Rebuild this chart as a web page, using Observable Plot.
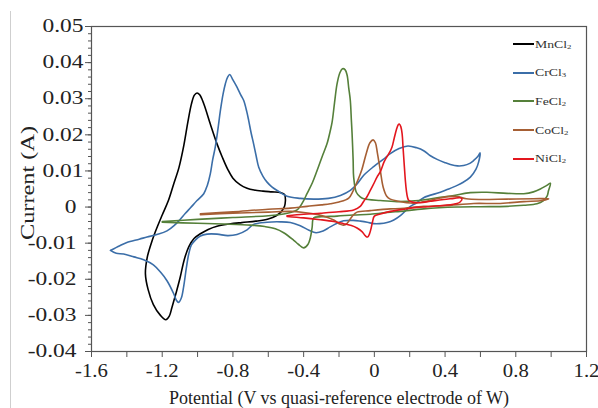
<!DOCTYPE html>
<html>
<head>
<meta charset="utf-8">
<script src="https://cdn.jsdelivr.net/npm/d3@7"></script>
<script src="https://cdn.jsdelivr.net/npm/@observablehq/plot@0.6"></script>
<style>
  html, body { margin: 0; padding: 0; background: #fff; }
  #wrap { position: relative; width: 598px; height: 408px; overflow: hidden; }
  #edge { position: absolute; left: 10px; top: 11px; width: 1px; height: 397px; background: #cfcfcf; }
  #legend { position: absolute; left: 513px; top: 30px; font-family: "Liberation Serif", serif; font-size: 11px; color: #333; }
  .item { display: flex; align-items: center; height: 28.6px; }
  .sw { width: 21px; height: 0; border-top: 2px solid; margin-right: 1px; }
  .lab { display: inline-block; transform: scaleX(1.25); transform-origin: left center; }
  sub { font-size: 7px; vertical-align: -1px; }
</style>
</head>
<body>
<div id="wrap"><div id="edge"></div><div id="chart"></div><div id="legend"></div></div>
<script>
const seriesNames = ["MnCl2", "CrCl3", "FeCl2", "CoCl2", "NiCl2"];
const seriesLabels = ["MnCl<sub>2</sub>", "CrCl<sub>3</sub>", "FeCl<sub>2</sub>", "CoCl<sub>2</sub>", "NiCl<sub>2</sub>"];
const seriesColors = ["#000000", "#3b6ea8", "#55803a", "#a65f34", "#e3161e"];

const xTicks = [-1.6, -1.2, -0.8, -0.4, 0, 0.4, 0.8, 1.2];
const xMinorTicks = [-1.4, -1.0, -0.6, -0.2, 0.2, 0.6, 1.0];
const yTicksPositive = [0.01, 0.02, 0.03, 0.04, 0.05];
const yTicksOther = [-0.04, -0.03, -0.02, -0.01, 0];
const xLabel = "Potential (V vs quasi-reference electrode of W)";
const yLabel = "Current (A)";

const mnCl2 = [
  [-0.503, 0.0018], [-0.508, 0.0035], [-0.53, 0.0040], [-0.58, 0.0042], [-0.63, 0.0044], [-0.68, 0.0047],
  [-0.72, 0.0052], [-0.76, 0.0062], [-0.80, 0.0080], [-0.83, 0.0105], [-0.86, 0.0138], [-0.89, 0.0175],
  [-0.928, 0.0230], [-0.965, 0.0286], [-0.988, 0.0311], [-1.003, 0.0316], [-1.018, 0.0310], [-1.035, 0.0285],
  [-1.055, 0.0235], [-1.078, 0.0170], [-1.105, 0.0110], [-1.135, 0.0064], [-1.165, 0.0018], [-1.20, -0.0022],
  [-1.24, -0.0070], [-1.265, -0.0105], [-1.285, -0.0140], [-1.295, -0.0185], [-1.28, -0.0228], [-1.25, -0.0270],
  [-1.21, -0.0300], [-1.18, -0.0312], [-1.16, -0.0302], [-1.145, -0.0278], [-1.12, -0.0235], [-1.10, -0.0198],
  [-1.075, -0.0145], [-1.05, -0.0110], [-1.02, -0.0087], [-0.984, -0.0074], [-0.94, -0.0062], [-0.89, -0.0053],
  [-0.82, -0.0047], [-0.75, -0.0043], [-0.67, -0.0039], [-0.60, -0.0033], [-0.555, -0.0024], [-0.525, -0.0012],
  [-0.508, 0.0002], [-0.503, 0.0018]
];

const crCl3 = [
  [-1.493, -0.0120], [-1.44, -0.0107], [-1.40, -0.0098], [-1.33, -0.0089], [-1.286, -0.0083], [-1.23, -0.0076],
  [-1.173, -0.0066], [-1.13, -0.0050], [-1.10, -0.0035], [-1.07, -0.0018], [-1.04, -0.0002], [-1.003, 0.0018],
  [-0.965, 0.0037], [-0.945, 0.0060], [-0.928, 0.0092], [-0.915, 0.0130], [-0.90, 0.0166], [-0.885, 0.0215],
  [-0.871, 0.0267], [-0.855, 0.0315], [-0.843, 0.0341], [-0.83, 0.0360], [-0.818, 0.0367], [-0.80, 0.0352],
  [-0.777, 0.0332], [-0.755, 0.0310], [-0.739, 0.0295], [-0.722, 0.0265], [-0.711, 0.0240], [-0.697, 0.0205],
  [-0.683, 0.0175], [-0.668, 0.0140], [-0.654, 0.0110], [-0.63, 0.0085], [-0.607, 0.0069], [-0.58, 0.0056],
  [-0.55, 0.0046], [-0.494, 0.0030], [-0.42, 0.0024], [-0.343, 0.0022], [-0.26, 0.0024], [-0.192, 0.0032],
  [-0.136, 0.0046], [-0.098, 0.0064], [-0.06, 0.0088], [-0.004, 0.0112], [0.05, 0.0132], [0.09, 0.0148],
  [0.14, 0.0162], [0.19, 0.0169], [0.24, 0.0164], [0.279, 0.0156], [0.317, 0.0142], [0.355, 0.0132],
  [0.40, 0.0123], [0.43, 0.0118], [0.47, 0.0114], [0.505, 0.0115], [0.54, 0.0121], [0.562, 0.0129],
  [0.585, 0.0140], [0.598, 0.0150],
  [0.59, 0.0125], [0.575, 0.0105], [0.543, 0.0083], [0.50, 0.0068], [0.468, 0.0060], [0.42, 0.0050],
  [0.373, 0.0041], [0.279, 0.0026], [0.24, 0.0012], [0.204, 0.0002], [0.147, -0.0024], [0.11, -0.0036],
  [0.072, -0.0043], [0.03, -0.0046], [-0.004, -0.0046], [-0.04, -0.0042], [-0.079, -0.0039], [-0.12, -0.0037],
  [-0.174, -0.0038], [-0.211, -0.0045], [-0.25, -0.0055], [-0.29, -0.0066], [-0.33, -0.0071], [-0.37, -0.0064],
  [-0.419, -0.0052], [-0.475, -0.0043], [-0.53, -0.0041], [-0.607, -0.0042], [-0.683, -0.0048], [-0.72, -0.0063],
  [-0.777, -0.0076], [-0.83, -0.0079], [-0.89, -0.0075], [-0.946, -0.0075], [-0.984, -0.0080], [-1.01, -0.0090],
  [-1.035, -0.0105], [-1.05, -0.0130], [-1.063, -0.0167], [-1.078, -0.0218], [-1.092, -0.0252], [-1.107, -0.0264],
  [-1.12, -0.0258], [-1.135, -0.0240], [-1.173, -0.0204], [-1.21, -0.0180], [-1.25, -0.0160], [-1.305, -0.0146],
  [-1.36, -0.0138], [-1.418, -0.0130], [-1.46, -0.0128], [-1.493, -0.0120]
];

const feCl2 = [
  [-1.2, -0.0040], [-1.0, -0.0034], [-0.8, -0.0029], [-0.6, -0.0024], [-0.513, -0.0019], [-0.475, -0.0015],
  [-0.437, -0.0008], [-0.419, 0.0002], [-0.40, 0.0018], [-0.381, 0.0037], [-0.35, 0.0068], [-0.324, 0.0101],
  [-0.295, 0.0140], [-0.268, 0.0175], [-0.25, 0.0210], [-0.239, 0.0235], [-0.225, 0.0290], [-0.211, 0.0341],
  [-0.195, 0.0372], [-0.18, 0.0383], [-0.165, 0.0380], [-0.154, 0.0365], [-0.145, 0.0330], [-0.136, 0.0295],
  [-0.13, 0.0240], [-0.126, 0.0203], [-0.12, 0.0130], [-0.117, 0.0083], [-0.102, 0.0041], [-0.08, 0.0028],
  [-0.06, 0.0023], [0.034, 0.0018], [0.128, 0.0015], [0.25, 0.0018], [0.373, 0.0027], [0.45, 0.0032],
  [0.543, 0.0040], [0.637, 0.0041], [0.75, 0.0038], [0.845, 0.0037], [0.90, 0.0042], [0.939, 0.0050],
  [0.975, 0.0060], [0.996, 0.0066],
  [0.985, 0.0045], [0.977, 0.0030], [0.955, 0.0017], [0.92, 0.0009], [0.845, 0.0005], [0.75, 0.0002],
  [0.60, 0.0001], [0.468, 0.0], [0.279, -0.0005], [0.147, -0.0012], [0.09, -0.0014], [-0.023, -0.0020],
  [-0.12, -0.0022], [-0.211, -0.0025], [-0.30, -0.0027], [-0.343, -0.0030], [-0.352, -0.0056], [-0.362, -0.0085],
  [-0.375, -0.0103], [-0.40, -0.0113], [-0.43, -0.0103], [-0.456, -0.0092], [-0.513, -0.0071], [-0.56, -0.0060],
  [-0.62, -0.0054], [-0.70, -0.0050], [-0.852, -0.0047], [-1.0, -0.0045], [-1.2, -0.0042]
];

const coCl2 = [
  [-0.984, -0.0019], [-0.8, -0.0013], [-0.6, -0.0006], [-0.475, -0.0003], [-0.381, 0.0002], [-0.30, 0.0006],
  [-0.249, 0.0009], [-0.20, 0.0014], [-0.145, 0.0025], [-0.12, 0.0045], [-0.093, 0.0075], [-0.07, 0.0105],
  [-0.045, 0.0150], [-0.025, 0.0178], [-0.007, 0.0186], [0.006, 0.0178], [0.017, 0.0150], [0.034, 0.0100],
  [0.05, 0.0055], [0.07, 0.0030], [0.09, 0.0022], [0.128, 0.0017], [0.223, 0.0011], [0.30, 0.0017],
  [0.373, 0.0025], [0.42, 0.0029], [0.468, 0.0029], [0.52, 0.0023], [0.60, 0.0021], [0.75, 0.0022],
  [0.90, 0.0023], [0.986, 0.0023],
  [0.95, 0.0018], [0.845, 0.0015], [0.70, 0.0010], [0.562, 0.0010], [0.40, 0.0004], [0.279, 0.0002],
  [0.147, -0.0004], [0.09, -0.0005], [-0.023, -0.0010], [-0.098, -0.0014], [-0.126, -0.0026], [-0.154, -0.0045],
  [-0.175, -0.0050], [-0.192, -0.0048], [-0.23, -0.0036], [-0.268, -0.0028], [-0.32, -0.0021], [-0.40, -0.0015],
  [-0.475, -0.0012], [-0.6, -0.0014], [-0.8, -0.0017], [-0.984, -0.0021]
];

const niCl2 = [
  [-0.494, -0.0024], [-0.40, -0.0020], [-0.305, -0.0017], [-0.20, -0.0013], [-0.117, -0.0008], [-0.08, 0.0002],
  [-0.06, 0.0016], [-0.04, 0.0030], [-0.023, 0.0046], [0.0, 0.0068], [0.015, 0.0083], [0.034, 0.0098],
  [0.055, 0.0125], [0.072, 0.0140], [0.09, 0.0155], [0.10, 0.0166], [0.112, 0.0190], [0.125, 0.0215],
  [0.135, 0.0228], [0.141, 0.0230], [0.150, 0.0222], [0.157, 0.0203], [0.163, 0.0160], [0.170, 0.0110],
  [0.176, 0.0070], [0.181, 0.0046], [0.187, 0.0028], [0.194, 0.0019], [0.22, 0.0013], [0.26, 0.0012],
  [0.317, 0.0016], [0.392, 0.0021], [0.45, 0.0024], [0.485, 0.0026], [0.496, 0.0023],
  [0.485, 0.0014], [0.468, 0.0010], [0.40, 0.0005], [0.30, 0.0001], [0.24, -0.0001], [0.166, -0.0006],
  [0.09, -0.0012], [0.034, -0.0019], [0.0, -0.0025], [-0.01, -0.0040], [-0.018, -0.0058], [-0.028, -0.0075],
  [-0.038, -0.0083], [-0.05, -0.0080], [-0.07, -0.0068], [-0.098, -0.0058], [-0.13, -0.0051], [-0.174, -0.0046],
  [-0.23, -0.0040], [-0.305, -0.0035], [-0.40, -0.0030], [-0.494, -0.0026]
];

const seriesData = [mnCl2, crCl3, feCl2, coCl2, niCl2];
const rows = seriesData.flatMap((pts, i) => pts.map(([x, y]) => ({series: seriesNames[i], x, y})));

const fmt = d => (Math.abs(d) < 1e-9 ? "0" : String(+d.toFixed(2)));
const yMinor = d3.range(-40, 51, 2).map(v => v / 1000);

const chart = Plot.plot({
  width: 598,
  height: 408,
  marginLeft: 91,
  marginRight: 12,
  marginTop: 26,
  marginBottom: 57,
  style: {fontFamily: "'Liberation Serif', serif", fontSize: "18px", background: "transparent", color: "#222"},
  x: {domain: [-1.6, 1.2]},
  y: {domain: [-0.04, 0.05]},
  color: {domain: seriesNames, range: seriesColors},
  marks: [
    Plot.axisY(yMinor, {tickSize: 3, tickFormat: () => "", label: null, stroke: "#555"}),
    Plot.axisY(yTicksPositive, {tickSize: 6, tickPadding: 2, tickFormat: fmt, label: null, stroke: "#555", fill: "#222"}),
    Plot.axisY(yTicksOther, {tickSize: 6, tickPadding: 9, tickFormat: fmt, label: null, stroke: "#555", fill: "#222"}),
    Plot.axisX(xMinorTicks, {tickSize: 6, tickFormat: () => "", label: null, stroke: "#555"}),
    Plot.axisX(xTicks, {tickSize: 6, tickPadding: 7, tickFormat: fmt, label: null, stroke: "#555", fill: "#222"}),
    Plot.line(rows, {x: "x", y: "y", z: "series", stroke: "series", strokeWidth: 1.6, curve: "catmull-rom"}),
    Plot.frame({stroke: "#555", strokeWidth: 1.2}),
    Plot.text([yLabel], {frameAnchor: "left", textAnchor: "start", dx: -63, dy: 51, rotate: -90, fontSize: 18, fill: "#222"}),
    Plot.text([xLabel], {frameAnchor: "bottom", dy: 52, fontSize: 18, fill: "#222"})
  ]
});
document.getElementById("chart").appendChild(chart);

// Widen glyphs along the baseline to match the reference's wide lettering.
function stretch(sel, f) {
  chart.querySelectorAll(sel).forEach(t => {
    const w = t.getComputedTextLength();
    if (w > 0) {
      t.setAttribute("textLength", (w * f).toFixed(1));
      t.setAttribute("lengthAdjust", "spacingAndGlyphs");
    }
  });
}
stretch('g[aria-label="y-axis tick label"] text', 1.3);
stretch('g[aria-label="x-axis tick label"] text', 1.15);
const ylab = [...chart.querySelectorAll('g[aria-label="text"] text')].find(t => t.textContent === yLabel);
if (ylab) {
  const w = ylab.getComputedTextLength();
  ylab.setAttribute("textLength", (w * 1.35).toFixed(1));
  ylab.setAttribute("lengthAdjust", "spacingAndGlyphs");
}

const legend = document.getElementById("legend");
seriesNames.forEach((n, i) => {
  const item = document.createElement("div");
  item.className = "item";
  item.innerHTML = `<span class="sw" style="border-color:${seriesColors[i]}"></span><span class="lab">${seriesLabels[i]}</span>`;
  legend.appendChild(item);
});
</script>
</body>
</html>
